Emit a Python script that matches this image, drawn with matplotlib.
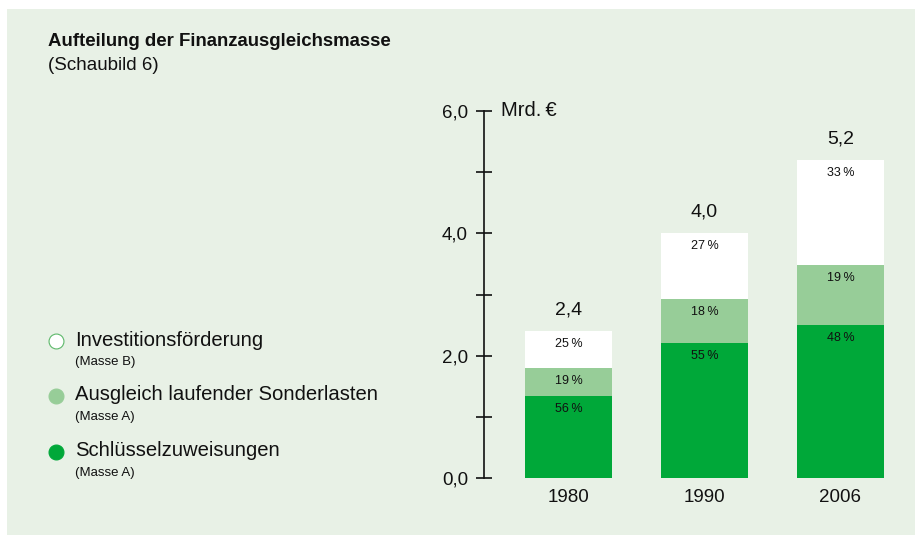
import matplotlib
matplotlib.use("Agg")
import matplotlib.pyplot as plt
from matplotlib.patches import Rectangle
import numpy as np

plt.rcParams['font.family'] = ['Liberation Sans', 'DejaVu Sans']

### Data
years = ['1980', '1990', '2006']
totals = [2.4, 4.0, 5.2]                 # Mrd. Euro
pct_schluessel = [56, 55, 48]            # Schluesselzuweisungen (Masse A)
pct_sonderlasten = [19, 18, 19]          # Ausgleich laufender Sonderlasten (Masse A)
pct_invest = [25, 27, 33]                # Investitionsfoerderung (Masse B)

legend_labels = ['Investitionsförderung', 'Ausgleich laufender Sonderlasten', 'Schlüsselzuweisungen']
legend_sub = ['(Masse B)', '(Masse A)', '(Masse A)']
yticks = [0, 2, 4, 6]
ytick_labels = ['0,0', '2,0', '4,0', '6,0']

## colours
c_bg = '#e8f1e6'
c_dark = '#00a839'
c_light = '#97cd98'
c_white = '#ffffff'

W, H = 915, 535
fig = plt.figure(figsize=(W / 100, H / 100), dpi=100)
fig.patch.set_facecolor('white')

# background axes in pixel coords (y down)
bg = fig.add_axes([0, 0, 1, 1])
bg.set_xlim(0, W)
bg.set_ylim(H, 0)
bg.axis('off')
bg.add_patch(Rectangle((7, 9), W - 7, H - 9, facecolor=c_bg, edgecolor='none'))

bg.text(48, 41, 'Aufteilung der Finanzausgleichsmasse', fontsize=13.4, fontweight='bold',
        va='center', ha='left', color='#111111')
bg.text(48, 65, '(Schaubild 6)', fontsize=13.5, va='center', ha='left', color='#111111')

# legend
leg_colors = [c_white, c_light, c_dark]
leg_edges = ['#5db86a', c_light, c_dark]
leg_y = [341, 396, 452]
for lab, sub, fc, ec, yy in zip(legend_labels, legend_sub, leg_colors, leg_edges, leg_y):
    bg.scatter([56], [yy], s=115, facecolor=fc, edgecolor=ec, linewidth=0.8, zorder=3)
    bg.text(75, yy - 1, lab, fontsize=14.6, va='center', ha='left', color='#111111')
    bg.text(75, yy + 21, sub, fontsize=9.5, va='center', ha='left', color='#111111')

# chart axes
ax_left = 484 / W
ax_bottom = (H - 478) / H
ax_h = (478 - 111) / H
ax_w = (905 - 484) / W
ax = fig.add_axes([ax_left, ax_bottom, ax_w, ax_h])
ax.set_facecolor('none')

x = np.arange(len(years))
totals = np.array(totals)
seg1 = totals * np.array(pct_schluessel) / 100
seg2 = totals * np.array(pct_sonderlasten) / 100
seg3 = totals * np.array(pct_invest) / 100

bw = 0.64
ax.bar(x, seg1, bw, color=c_dark, linewidth=0)
ax.bar(x, seg2, bw, bottom=seg1, color=c_light, linewidth=0)
ax.bar(x, seg3, bw, bottom=seg1 + seg2, color=c_white, linewidth=0)

ax.set_xlim((484 - 568.5) / 136, (905 - 568.5) / 136)
ax.set_ylim(0, 6)

for s in ['top', 'right', 'bottom']:
    ax.spines[s].set_visible(False)
ax.spines['left'].set_linewidth(1.2)
ax.spines['left'].set_color('#111111')

ax.set_yticks(np.arange(0, 7, 1))
ax.set_yticklabels([ytick_labels[yticks.index(v)] if v in yticks else '' for v in range(7)],
                   fontsize=13.5, color='#111111')
ax.tick_params(axis='y', direction='inout', length=11, width=1.2, color='#111111', pad=6)

ax.set_xticks(x)
ax.set_xticklabels(years, fontsize=13.5, color='#111111')
ax.tick_params(axis='x', length=0, pad=8)

ax.text(0.04, 6, 'Mrd.\u2009€', transform=ax.get_yaxis_transform(), fontsize=14.5,
        va='center', ha='left', color='#111111')

# value labels
px_unit = 367 / 6
off = 13 / px_unit
tops = [seg1, seg1 + seg2, totals]
pcts = [pct_schluessel, pct_sonderlasten, pct_invest]
for t, p in zip(tops, pcts):
    for i in range(len(years)):
        ax.text(x[i], t[i] - off, f'{p[i]}\u2009%', fontsize=9, ha='center', va='center',
                color='#111111')
for i in range(len(years)):
    ax.text(x[i], totals[i] + 21 / px_unit, f'{totals[i]:.1f}'.replace('.', ','), fontsize=14,
            ha='center', va='center', color='#111111')

fig.savefig('out.png', dpi=100)
